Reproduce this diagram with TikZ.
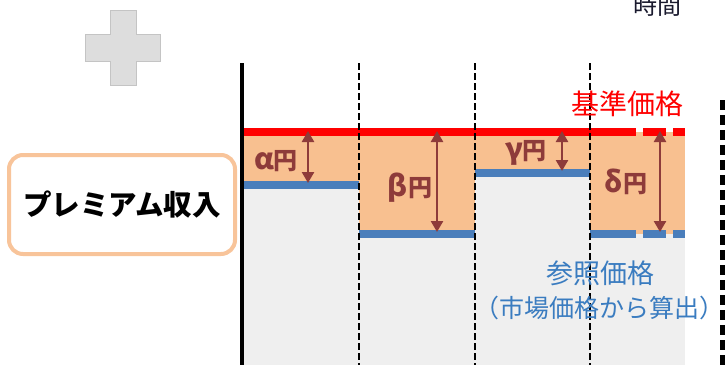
\documentclass[tikz,border=0pt]{standalone}
\usepackage{fontspec}
\setmainfont{Noto Sans CJK JP}
\usetikzlibrary{arrows.meta}
\definecolor{redline}{HTML}{FF0000}
\definecolor{blueline}{HTML}{4A7EBB}
\definecolor{orangefill}{HTML}{F8C090}
\definecolor{grayfill}{HTML}{EFEFEF}
\definecolor{arrowred}{HTML}{8E3B3A}
\definecolor{bluetext}{HTML}{3A7CC0}
\definecolor{boxborder}{HTML}{F8C49A}
\definecolor{plusfill}{HTML}{DDDDDD}
\definecolor{plusdraw}{HTML}{C4C4C4}
\definecolor{timetext}{HTML}{1A1A2E}
\newcommand{\grk}[1]{{\fontsize{29}{29}\selectfont #1}}
\begin{document}
\begin{tikzpicture}[x=1pt,y=-1pt,
  refline/.style={line width=8pt},
  gapline/.style={draw=black,line width=2.2pt,dash pattern=on 7pt off 3pt},
  diffarrow/.style={draw=arrowred,line width=2.5pt,{Triangle[width=12pt,length=11pt]}-{Triangle[width=12pt,length=11pt]}},
  difflabel/.style={text=arrowred,font=\bfseries\fontsize{24}{26}\selectfont,inner sep=0pt},
]
\path[use as bounding box] (0,0) rectangle (725,365);

% plus sign
\draw[fill=plusfill,draw=plusdraw,line width=1pt]
  (110,10) -- (136,10) -- (136,34) -- (160,34) -- (160,61) -- (136,61) -- (136,85)
  -- (110,85) -- (110,61) -- (85,61) -- (85,34) -- (110,34) -- cycle;

% time label
\node[text=timetext,font=\fontsize{24}{26}\selectfont,inner sep=0pt] (time) at (657,5) {時間};

% fills
\fill[grayfill] (242,132) rectangle (685,365);
\fill[orangefill] (242,132) rectangle (359,184.5);
\fill[orangefill] (359,132) rectangle (475,233.5);
\fill[orangefill] (475,132) rectangle (590,172.5);
\fill[orangefill] (590,132) rectangle (685,233.5);

% reference (red) line
\draw[refline,redline] (242,132) -- (636,132);
\draw[refline,redline] (643,132) -- (666,132);
\draw[refline,redline] (673,132) -- (685,132);

% blue lines
\draw[refline,blueline] (242,184.5) -- (359,184.5);
\draw[refline,blueline] (359,233.5) -- (475,233.5);
\draw[refline,blueline] (475,172.5) -- (590,172.5);
\draw[refline,blueline] (590,233.5) -- (636,233.5);
\draw[refline,blueline] (643,233.5) -- (666,233.5);
\draw[refline,blueline] (673,233.5) -- (685,233.5);

% vertical lines
\coordinate (v0t) at (242,63); \coordinate (v0b) at (242,365);
\coordinate (v1t) at (359,63); \coordinate (v1b) at (359,365);
\coordinate (v2t) at (475,63); \coordinate (v2b) at (475,365);
\coordinate (v3t) at (590,63); \coordinate (v3b) at (590,365);
\coordinate (v4t) at (722,100); \coordinate (v4b) at (722,365);
\draw[black,line width=3.5pt] (v0t) -- (v0b);
\draw[gapline] (v1t) -- (v1b);
\draw[gapline] (v2t) -- (v2b);
\draw[gapline] (v3t) -- (v3b);
\draw[black,line width=5pt,dash pattern=on 10pt off 5pt] (v4t) -- (v4b);

% difference arrows
\coordinate (a1t) at (308,131); \coordinate (a1b) at (308,183);
\coordinate (a2t) at (437,131); \coordinate (a2b) at (437,232);
\coordinate (a3t) at (562,131); \coordinate (a3b) at (562,171);
\coordinate (a4t) at (660,131); \coordinate (a4b) at (660,232);
\draw[diffarrow] (a1t) -- (a1b);
\draw[diffarrow] (a2t) -- (a2b);
\draw[diffarrow] (a3t) -- (a3b);
\draw[diffarrow] (a4t) -- (a4b);

\node[difflabel] (alpha) at (276,161) {\grk{α}円};
\node[difflabel] (beta) at (410,188) {\grk{β}円};
\node[difflabel] (gamma) at (526,153) {\grk{γ}円};
\node[difflabel] (delta) at (626,182) {\grk{δ}円};

% labels
\node[text=redline,font=\fontsize{28}{30}\selectfont,inner sep=0pt] (kijun) at (627,104) {基準価格};
\node[text=bluetext,font=\fontsize{27}{29}\selectfont,inner sep=0pt] (sansho) at (600,273) {参照価格};
\node[text=bluetext,font=\fontsize{25}{27}\selectfont,inner sep=0pt] (shijo) at (599,308) {（市場価格から算出）};

% premium box
\node[draw=boxborder,line width=4pt,rounded corners=14pt,fill=white,
      minimum width=226pt,minimum height=99pt,
      font=\bfseries\fontsize{28.5}{30}\selectfont] (premium) at (122,204.5) {プレミアム収入};
\end{tikzpicture}
\end{document}
